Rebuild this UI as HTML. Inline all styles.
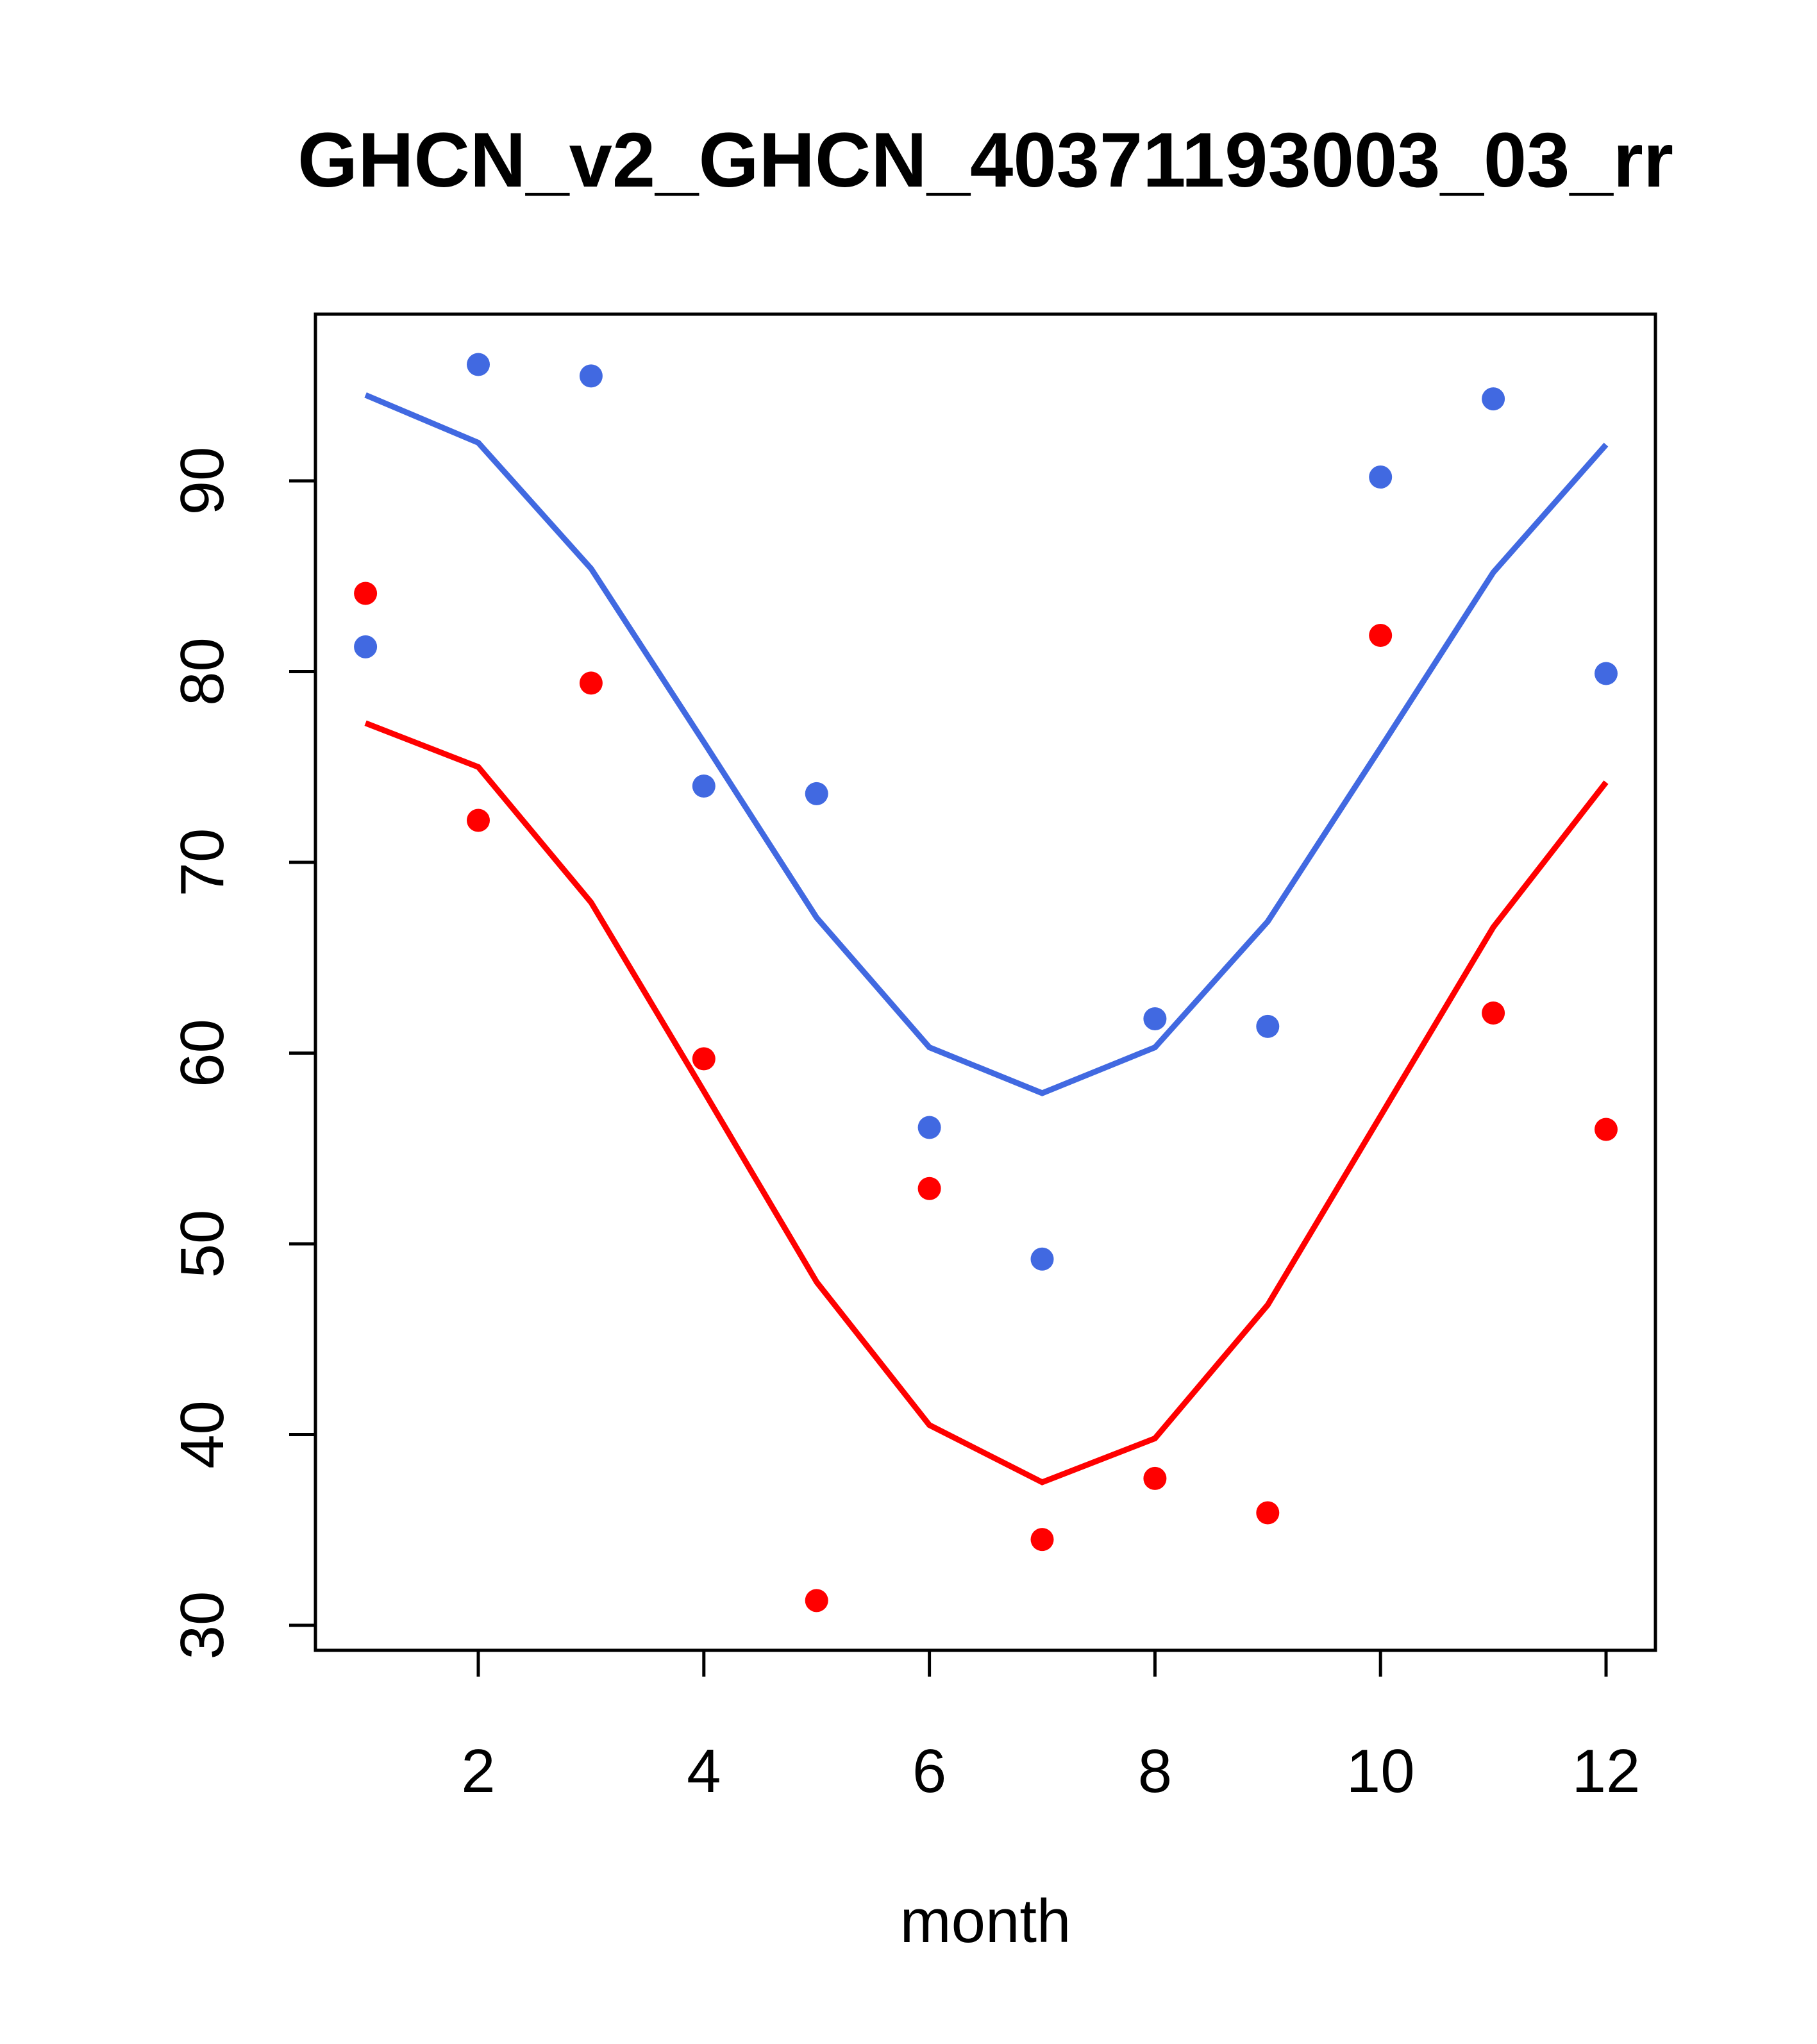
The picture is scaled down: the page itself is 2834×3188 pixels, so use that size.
<!DOCTYPE html>
<html><head><meta charset="utf-8"><style>html,body{margin:0;padding:0;background:#fff}svg{display:block}text{font-family:"Liberation Sans",sans-serif}</style></head>
<body>
<svg id="chart" width="2834" height="3188" viewBox="0 0 2834 3188" xmlns="http://www.w3.org/2000/svg">
<rect width="2834" height="3188" fill="#fff"/>
<text x="1537" y="291" font-size="121" font-weight="bold" text-anchor="middle">GHCN_v2_GHCN_40371193003_03_rr</text>
<text x="1537" y="3029" font-size="96" text-anchor="middle">month</text>
<rect x="492" y="490" width="2090" height="2084" fill="none" stroke="#000" stroke-width="5"/>
<g id="axes"></g>
<g id="marks"></g>
</svg>
<script>
const months=[1,2,3,4,5,6,7,8,9,10,11,12];
const blueLine=[94.5,92.0,85.4,76.3,67.1,60.3,57.9,60.3,66.9,76.0,85.2,91.9];
const redLine=[77.3,75.0,67.9,58.0,48.0,40.5,37.5,39.8,46.8,56.7,66.6,74.2];
const bluePoints=[81.3,96.1,95.5,74.0,73.6,56.1,49.2,61.8,61.4,90.2,94.3,79.9];
const redPoints=[84.1,72.2,79.4,59.7,31.3,52.9,34.5,37.7,35.9,81.9,62.1,56.0];
const xTicks=[2,4,6,8,10,12];
const yTicks=[30,40,50,60,70,80,90];

const NS="http://www.w3.org/2000/svg";
function X(m){return 746+(m-2)*175.9;}
function Y(v){return 750+(90-v)*29.75;}
const axes=document.getElementById('axes');
const marks=document.getElementById('marks');
function mk(tag,attrs,parent){const e=document.createElementNS(NS,tag);for(const k in attrs)e.setAttribute(k,attrs[k]);parent.appendChild(e);return e;}

xTicks.forEach(t=>{
  const l=mk('line',{x1:X(t),x2:X(t),y1:2574,y2:2615,stroke:'#000','stroke-width':5},axes);
  
  
  const tx=mk('text',{x:X(t),y:2795,'font-size':96,'text-anchor':'middle'},axes);
  tx.textContent=t;
  
  
});
yTicks.forEach(t=>{
  const l=mk('line',{x1:451,x2:492,y1:Y(t),y2:Y(t),stroke:'#000','stroke-width':5},axes);
  
  
  const tx=mk('text',{x:348,y:Y(t),'font-size':96,'text-anchor':'middle',transform:`rotate(-90 348 ${Y(t)})`},axes);
  tx.textContent=t;
  
  
});
function line(vals,color,name){
  const p=mk('polyline',{points:vals.map((v,i)=>X(months[i])+','+Y(v)).join(' '),fill:'none',stroke:color,'stroke-width':9},marks);
  
  
}
function pts(vals,color,name){
  vals.forEach((v,i)=>{
    const c=mk('circle',{cx:X(months[i]),cy:Y(v),r:18,fill:color},marks);
    
    
  });
}
line(blueLine,'#4169E1','blue-line');
line(redLine,'#FF0000','red-line');
pts(bluePoints,'#4169E1','blue-point');
pts(redPoints,'#FF0000','red-point');
</script>
</body></html>
